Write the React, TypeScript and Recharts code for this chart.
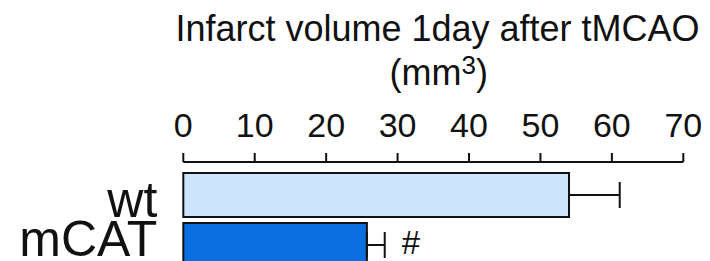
import React from "react";
import { BarChart, Bar, XAxis, YAxis, Cell, ErrorBar, LabelList } from "recharts";

// values (mm^3)
const groups = ["wt", "mCAT"];
const means = [54.0, 25.7];
const sems = [7.1, 2.5];
const marks = ["", "#"];
const xTicks = [0, 10, 20, 30, 40, 50, 60, 70];

const FILLS = ["#cce4fc", "#0a6fe0"];
const LABEL_DY = [22, 11];
const FONT = "'Liberation Sans', Arial, Helvetica, sans-serif";
const INK = "#111";

const data = groups.map((g, i) => ({
  group: g,
  value: means[i],
  err: [0, sems[i]],
  mark: marks[i],
}));

const XTick = (props: any) => (
  <text
    x={props.x}
    y={props.y}
    dy={-14}
    textAnchor="middle"
    fontSize={34}
    fontFamily={FONT}
    fill={INK}
  >
    {props.payload.value}
  </text>
);

const YTick = (props: any) => (
  <text
    x={props.x}
    y={props.y}
    dx={-26}
    dy={LABEL_DY[props.index] ?? 16}
    textAnchor="end"
    fontSize={50}
    fontFamily={FONT}
    fill={INK}
  >
    {props.payload.value}
  </text>
);

export default function App() {
  return (
    <div
      style={{
        position: "absolute",
        left: 0,
        top: 0,
        width: 710,
        height: 261,
        overflow: "hidden",
        background: "#fff",
      }}
    >
      <BarChart
        width={710}
        height={280}
        data={data}
        layout="vertical"
        margin={{ top: 0, right: 26.7, bottom: 10, left: 0 }}
      >
        <XAxis
          type="number"
          orientation="top"
          domain={[0, 70]}
          ticks={xTicks}
          height={162}
          tickSize={9}
          axisLine={{ stroke: INK, strokeWidth: 2 }}
          tickLine={{ stroke: INK, strokeWidth: 2 }}
          tick={XTick}
          interval={0}
        />
        <YAxis
          type="category"
          dataKey="group"
          width={183.3}
          axisLine={false}
          tickLine={false}
          tickSize={0}
          tickMargin={0}
          padding={{ top: 8, bottom: 0 }}
          tick={YTick}
        />
        <Bar dataKey="value" barSize={44} stroke={INK} strokeWidth={2} isAnimationActive={false}>
          {data.map((d, i) => (
            <Cell key={d.group} fill={FILLS[i]} />
          ))}
          <ErrorBar dataKey="err" direction="x" stroke={INK} strokeWidth={2} width={13} />
          <LabelList
            dataKey="mark"
            position="right"
            offset={35}
            fontSize={33}
            fontFamily={FONT}
            fill={INK}
            dy={-3}
          />
        </Bar>
      </BarChart>
      <svg
        width={710}
        height={261}
        style={{ position: "absolute", left: 0, top: 0, pointerEvents: "none" }}
      >
        <text x={437.5} y={41} textAnchor="middle" fontSize={36} fontFamily={FONT} fill={INK}>
          Infarct volume 1day after tMCAO
        </text>
        <text x={438.7} y={85} textAnchor="middle" fontSize={36} fontFamily={FONT} fill={INK}>
          (mm
          <tspan fontSize={26} dy={-11}>
            3
          </tspan>
          <tspan dy={11}>)</tspan>
        </text>
      </svg>
    </div>
  );
}
